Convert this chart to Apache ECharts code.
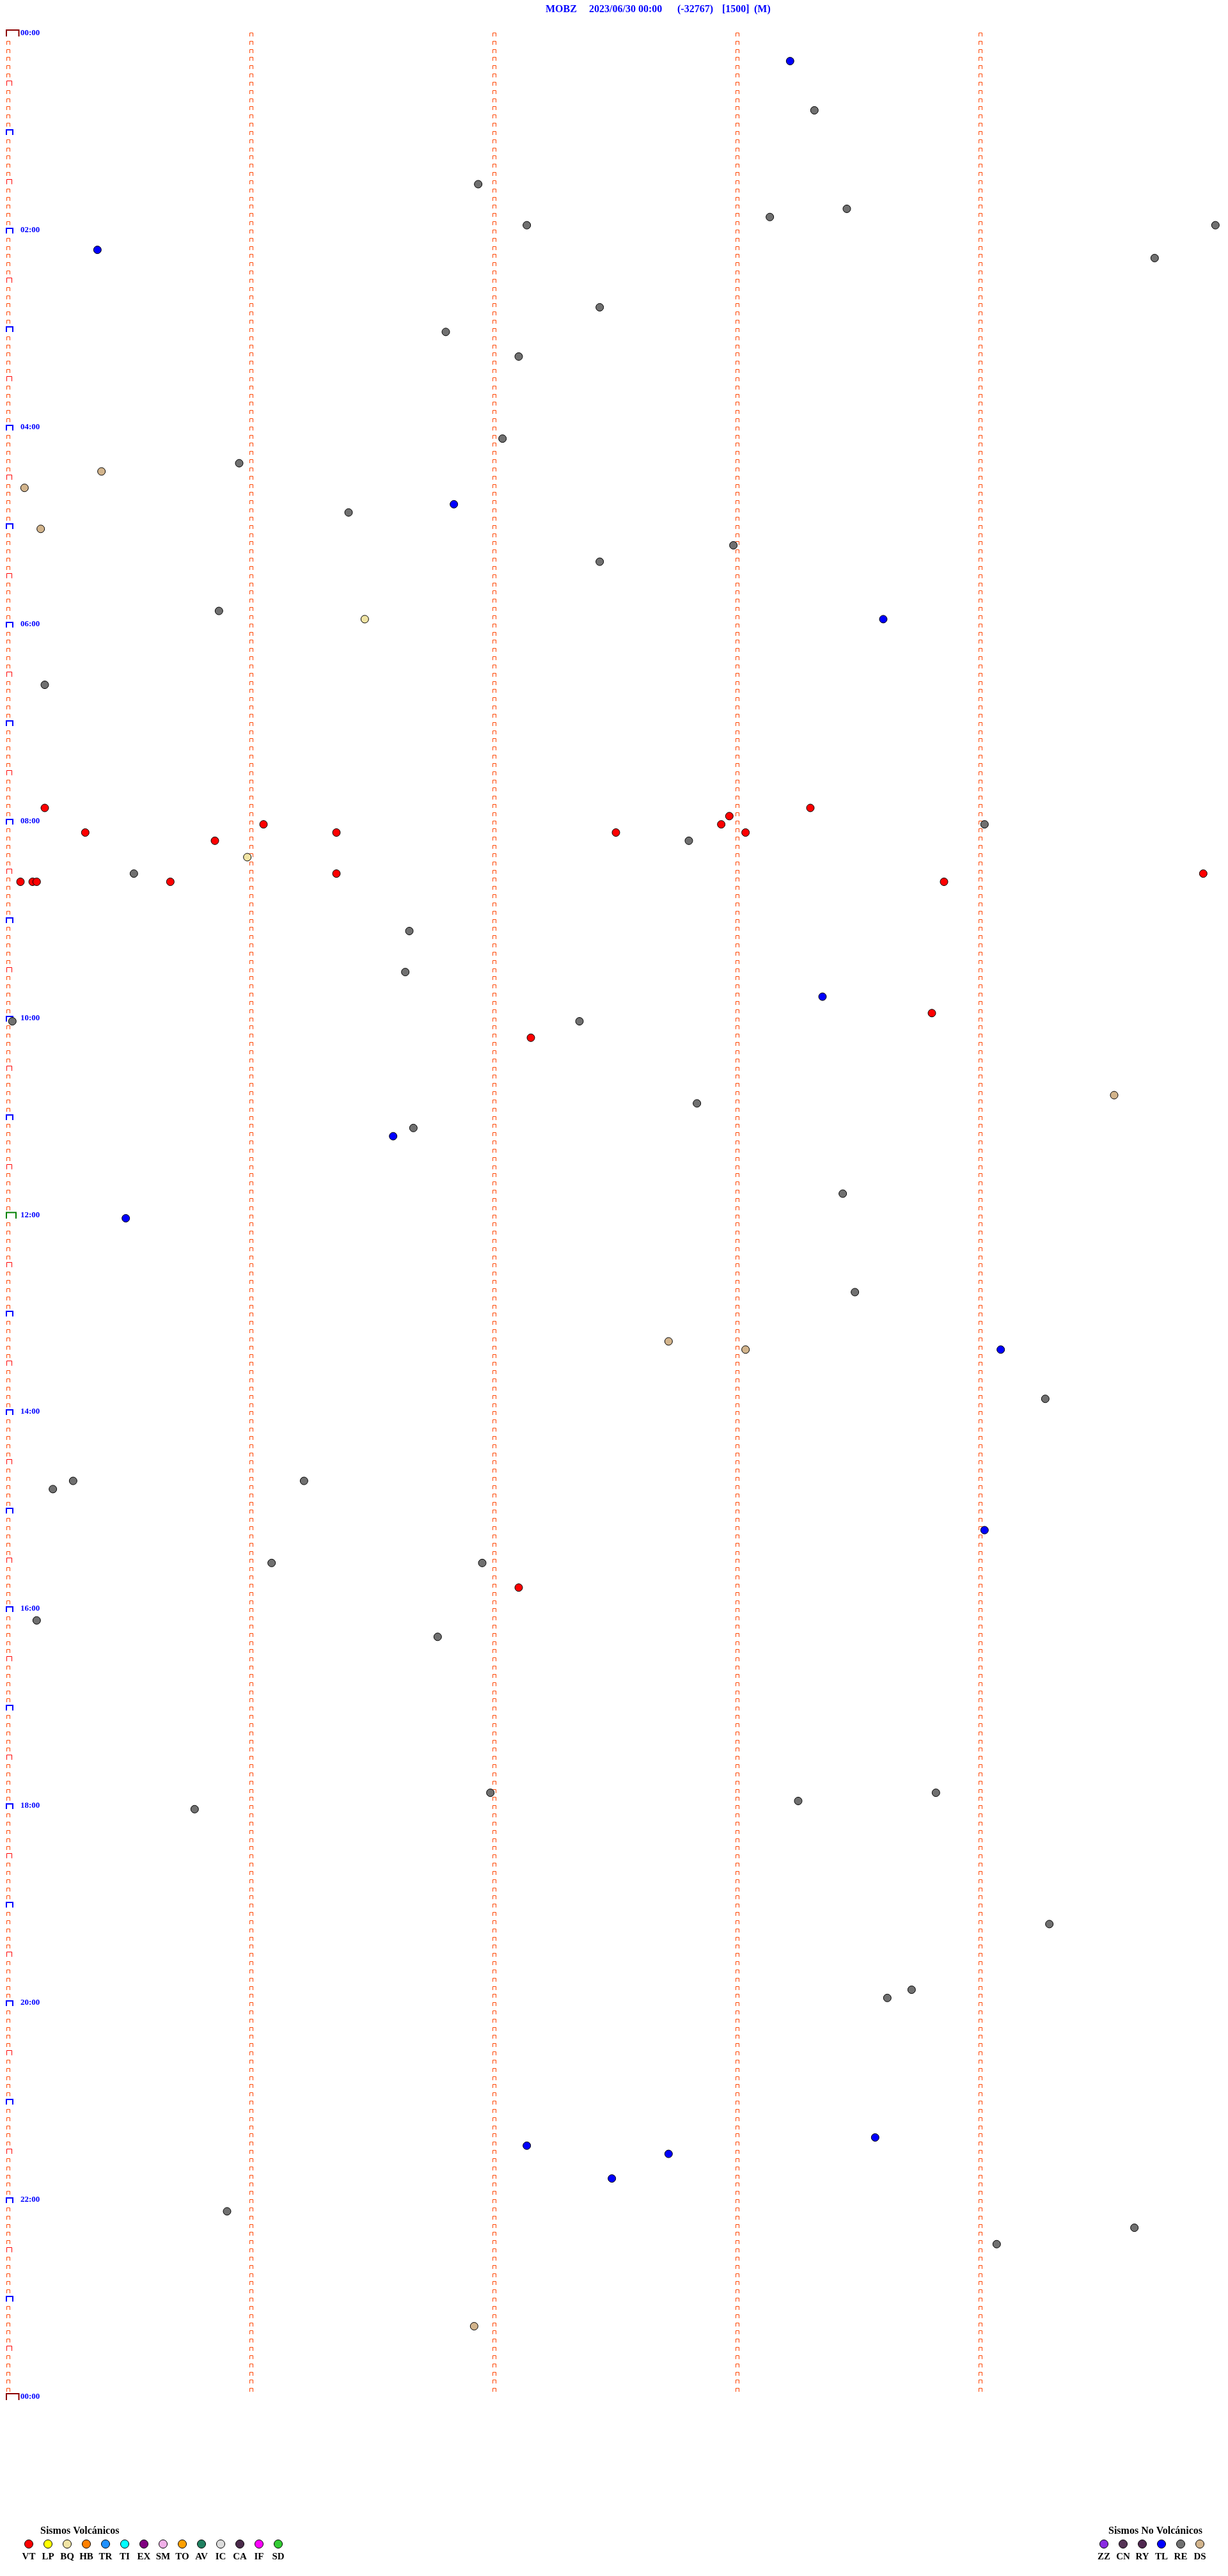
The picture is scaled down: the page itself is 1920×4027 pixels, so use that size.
<!DOCTYPE html>
<html><head><meta charset="utf-8">
<script src="https://cdn.jsdelivr.net/npm/echarts@6/dist/echarts.min.js"></script>
<style>html,body{margin:0;padding:0;background:#fff}#c{width:1920px;height:4027px}</style>
</head><body><div id="c"></div>
<script>
// ---- title pieces ----
const titleParts = ['MOBZ', '2023/06/30 00:00', '(-32767)', '[1500]', '(M)'];

// ---- time tick labels (every 2 h on the left) ----
const timeLabelMinutes = [0,120,240,360,480,600,720,840,960,1080,1200,1320,1440];
const timeLabels = ['00:00','02:00','04:00','06:00','08:00','10:00','12:00','14:00','16:00','18:00','20:00','22:00','00:00'];

// ---- legend ----
const volcanicTitle = 'Sismos Volcánicos';
const volcanicCodes = ['VT','LP','BQ','HB','TR','TI','EX','SM','TO','AV','IC','CA','IF','SD'];
const volcanicColors = ['#FF0000','#FFFF00','#F0E4A4','#FF8000','#1E90FF','#00FFFF','#800080','#F0B0E8','#FFA000','#208060','#DCDCDC','#4A2A4A','#FF00FF','#33CC33'];
const nonVolcanicTitle = 'Sismos No Volcánicos';
const nonVolcanicCodes = ['ZZ','CN','RY','TL','RE','DS'];
const nonVolcanicColors = ['#8A2BE2','#553355','#502850','#0000FF','#707070','#D2B48C'];

// ---- helicorder layout constants ----
const rowMinutes = 5;          // each trace line spans 5 minutes
const dayMinutes = 1440;
const markerCols = [0, 1, 2, 3, 4]; // minute marks inside a line

// ---- events (HH:MM:SS) ----
const VT = ['07:50:09','07:53:18','07:57:58','08:01:03','08:02:56','08:05:19','08:06:21','08:07:30','08:08:02','08:10:51',
            '08:31:21','08:34:55','08:35:03','08:35:06','08:35:07','08:35:40','08:38:51','09:58:48','10:12:09','15:47:06'];
const BQ = ['05:56:28','08:20:59'];
const TL = ['00:18:13','02:10:22','04:46:50','05:58:36','09:48:21','11:11:35','12:00:29','13:24:05','15:14:01',
            '21:23:34','21:27:08','21:32:43','21:47:29'];
const RE = ['00:48:19','01:31:56','01:48:27','01:53:08','01:57:08','01:59:58','02:19:43','02:47:26','03:01:48','03:17:06',
            '04:07:02','04:20:57','04:51:24','05:12:59','05:22:26','05:50:52','06:35:09','08:04:01','08:12:48','08:30:31',
            '09:06:39','09:31:38','10:00:01','10:02:21','10:52:50','11:06:40','11:48:26','12:48:29','13:54:16','14:40:16',
            '14:41:13','14:45:11','15:31:05','15:31:57','16:05:07','16:16:46','17:51:59','17:53:49','17:58:15','18:00:46',
            '19:14:17','19:53:43','19:58:37','22:05:54','22:19:38','22:29:04'];
const DS = ['04:25:23','04:35:04','05:00:08','10:49:33','13:17:43','13:23:02','23:16:55'];

const eventSets = [['RE', RE], ['DS', DS], ['BQ', BQ], ['TL', TL], ['VT', VT]];

function colorOf(code) {
  let i = volcanicCodes.indexOf(code);
  if (i >= 0) return volcanicColors[i];
  i = nonVolcanicCodes.indexOf(code);
  return nonVolcanicColors[i];
}
function toPoint(s) {
  const [h, m, sec] = s.split(':').map(Number);
  const T = h * 3600 + m * 60 + sec;
  const row = Math.floor(T / (rowMinutes * 60));
  return [(T - row * rowMinutes * 60) / 60, row * rowMinutes];
}

const rowStarts = [];
for (let t = 0; t <= dayMinutes; t += rowMinutes) rowStarts.push(t);

const FONT = '"Liberation Serif", "Times New Roman", serif';

function markerShape(c, t, xc, yb) {
  if (c === 0 && t % dayMinutes === 0)
    return { pts: [[xc-3, yb], [xc-3, yb-10], [xc+16.5, yb-10], [xc+16.5, yb]], color: '#8B0000', lw: 2 };
  if (c === 0 && t === 720)
    return { pts: [[xc-3, yb], [xc-3, yb-9.5], [xc+12, yb-9.5], [xc+12, yb]], color: '#008000', lw: 2 };
  if (c === 0 && t % 60 === 0)
    return { pts: [[xc-3, yb], [xc-3, yb-8], [xc+7, yb-8], [xc+7, yb]], color: '#0000FF', lw: 2 };
  if (c === 0 && t % 30 === 0)
    return { pts: [[xc-2.5, yb], [xc-2.5, yb-7.5], [xc+5.5, yb-7.5], [xc+5.5, yb]], color: '#FF0000', lw: 1 };
  return { pts: [[xc-2.5, yb], [xc-2.5, yb-5.5], [xc+2.5, yb-5.5], [xc+2.5, yb]], color: '#FF4500', lw: 1 };
}

const series = [{
  type: 'custom',
  silent: true,
  z: 1,
  data: rowStarts.map(t => [0, t]),
  renderItem: function (params, api) {
    const t = api.value(1);
    const children = [];
    for (const c of markerCols) {
      if (t === dayMinutes && c > 0) continue;
      const p = api.coord([c, t]);
      const xc = Math.round(p[0]);
      const yb = Math.round(p[1]);
      const m = markerShape(c, t, xc, yb);
      children.push({ type: 'polyline', shape: { points: m.pts },
        style: { stroke: m.color, lineWidth: m.lw, fill: null } });
    }
    return { type: 'group', children };
  }
}];
eventSets.forEach(([code, arr]) => {
  series.push({
    type: 'scatter', name: code, z: 5,
    symbol: 'circle', symbolSize: 12,
    itemStyle: { color: colorOf(code), borderColor: '#000', borderWidth: 1, opacity: 1 },
    data: arr.map(toPoint),
    animation: false
  });
});

// graphics: title + legends
const graphic = [];
const titleX = [853, 921, 1059, 1129, 1179];
titleParts.forEach((s, i) => graphic.push({ type: 'text', x: titleX[i], y: 15,
  style: { text: s, font: 'bold 16px ' + FONT, fill: '#0000FF', verticalAlign: 'middle', align: 'left' } }));

graphic.push({ type: 'text', x: 63, y: 3957, style: { text: volcanicTitle, font: 'bold 16px ' + FONT, fill: '#000', verticalAlign: 'middle' } });
volcanicCodes.forEach((code, i) => {
  const cx = 45 + 30 * i;
  graphic.push({ type: 'circle', shape: { cx, cy: 3977, r: 6.5 }, style: { fill: volcanicColors[i], stroke: '#000', lineWidth: 1 } });
  graphic.push({ type: 'text', x: cx, y: 3997, style: { text: code, font: 'bold 15px ' + FONT, fill: '#000', align: 'center', verticalAlign: 'middle' } });
});
graphic.push({ type: 'text', x: 1733, y: 3957, style: { text: nonVolcanicTitle, font: 'bold 16px ' + FONT, fill: '#000', verticalAlign: 'middle' } });
nonVolcanicCodes.forEach((code, i) => {
  const cx = 1726 + 30 * i;
  graphic.push({ type: 'circle', shape: { cx, cy: 3977, r: 6.5 }, style: { fill: nonVolcanicColors[i], stroke: '#000', lineWidth: 1 } });
  graphic.push({ type: 'text', x: cx, y: 3997, style: { text: code, font: 'bold 15px ' + FONT, fill: '#000', align: 'center', verticalAlign: 'middle' } });
});

const chart = echarts.init(document.getElementById('c'), null, { renderer: 'canvas' });
chart.setOption({
  backgroundColor: '#ffffff',
  animation: false,
  grid: { left: 13, width: 1900, top: 57, height: 3695, containLabel: false, outerBoundsMode: 'none' },
  xAxis: { type: 'value', min: 0, max: rowMinutes, show: false },
  yAxis: {
    type: 'value', min: 0, max: dayMinutes, interval: 120, inverse: true,
    axisLine: { show: false }, axisTick: { show: false }, splitLine: { show: false },
    axisLabel: { show: false }
  },
  graphic,
  series
});

// time labels placed through the y axis scale
const labelGraphics = timeLabelMinutes.map((v, i) => {
  const y = Math.round(chart.convertToPixel({ yAxisIndex: 0 }, v));
  return { type: 'text', x: 32, y: y - 5,
    style: { text: timeLabels[i], font: 'bold 13px ' + FONT, fill: '#0000FF', verticalAlign: 'middle', align: 'left' } };
});
chart.setOption({ graphic: graphic.concat(labelGraphics) });
</script></body></html>
